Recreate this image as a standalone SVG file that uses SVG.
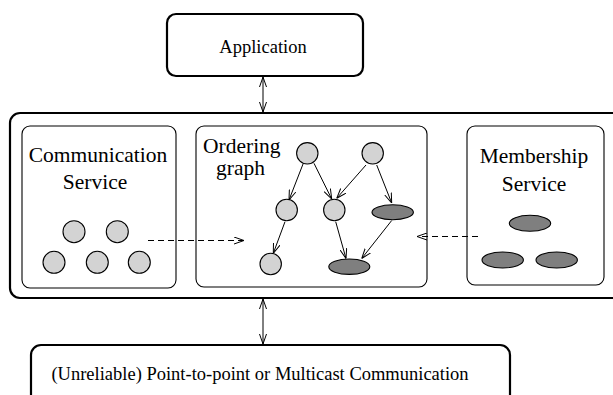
<svg xmlns="http://www.w3.org/2000/svg" width="613" height="395" viewBox="0 0 613 395">
<style>
.big{fill:#fff;stroke:#000;stroke-width:2.2}
.box{fill:#fff;stroke:#000;stroke-width:1.1}
.lt{fill:#d3d3d3;stroke:#000;stroke-width:1.1}
.dk{fill:#7f7f7f;stroke:#000;stroke-width:1.1}
.t{font-family:"Liberation Serif","Times New Roman",serif;fill:#000}
.e{stroke:#000;stroke-width:1;fill:none;marker-end:url(#ah)}
.d{stroke:#000;stroke-width:1;fill:none;stroke-dasharray:6,4;marker-end:url(#ah)}
.bi{stroke:#000;stroke-width:1;fill:none;marker-end:url(#ah);marker-start:url(#ahs)}
</style>
<defs>
<marker id="ah" viewBox="0 0 10 8" refX="10" refY="4" markerWidth="10" markerHeight="8" markerUnits="userSpaceOnUse" orient="auto">
<path d="M0,0.5 L10,4 L0,7.5" fill="none" stroke="#000" stroke-width="1"/>
</marker>
<marker id="ahs" viewBox="0 0 10 8" refX="0" refY="4" markerWidth="10" markerHeight="8" markerUnits="userSpaceOnUse" orient="auto">
<path d="M10,0.5 L0,4 L10,7.5" fill="none" stroke="#000" stroke-width="1"/>
</marker>
</defs>
<g id="application">
<rect class="big" x="167" y="14" width="196" height="62" rx="9"/>
<text class="t" x="263" y="53" font-size="18.5" text-anchor="middle">Application</text>
</g>
<g id="middleware">
<rect class="big" x="10" y="113" width="620" height="185" rx="10"/>
</g>
<g id="network">
<rect class="big" x="31" y="345" width="479" height="70" rx="10"/>
<text class="t" x="260" y="380" font-size="18.5" text-anchor="middle">(Unreliable) Point-to-point or Multicast Communication</text>
</g>
<g id="communication-service">
<rect class="box" x="22" y="126" width="154" height="162" rx="8"/>
<text class="t" x="98" y="162" font-size="21.5" text-anchor="middle">Communication</text>
<text class="t" x="95" y="189" font-size="21.5" text-anchor="middle">Service</text>
<circle class="lt" cx="74" cy="231.7" r="11"/>
<circle class="lt" cx="117.3" cy="231.7" r="11"/>
<circle class="lt" cx="54" cy="262.3" r="11"/>
<circle class="lt" cx="97.3" cy="262.3" r="11"/>
<circle class="lt" cx="139.3" cy="262.3" r="11"/>
</g>
<g id="ordering-graph">
<rect class="box" x="196" y="126" width="231" height="161" rx="8"/>
<text class="t" x="203" y="153" font-size="21.5">Ordering</text>
<text class="t" x="216" y="175" font-size="21.5">graph</text>
<circle class="lt" cx="307.3" cy="153.3" r="10.7"/>
<circle class="lt" cx="372.7" cy="153.3" r="10.7"/>
<circle class="lt" cx="286.7" cy="210" r="10.7"/>
<circle class="lt" cx="334.3" cy="210" r="10.7"/>
<ellipse class="dk" cx="392.7" cy="212.3" rx="20.7" ry="7.5"/>
<circle class="lt" cx="270.7" cy="264" r="10.7"/>
<ellipse class="dk" cx="349.3" cy="266.7" rx="20.5" ry="7.7"/>
</g>
<g id="membership-service">
<rect class="box" x="467" y="126" width="137" height="159" rx="8"/>
<text class="t" x="534" y="163" font-size="21.5" text-anchor="middle">Membership</text>
<text class="t" x="534" y="191" font-size="21.5" text-anchor="middle">Service</text>
<ellipse class="dk" cx="530" cy="223.3" rx="20.7" ry="8"/>
<ellipse class="dk" cx="502.7" cy="260" rx="20.7" ry="8"/>
<ellipse class="dk" cx="556.7" cy="260" rx="20.7" ry="8"/>
</g>
<g id="connectors">
<line class="bi" x1="263" y1="77" x2="263" y2="112"/>
<line class="bi" x1="263" y1="299" x2="263" y2="344"/>
<line class="e" x1="303.3" y1="163.3" x2="289" y2="200"/>
<line class="e" x1="314" y1="163.3" x2="331.7" y2="199"/>
<line class="e" x1="366" y1="165" x2="336.7" y2="198.3"/>
<line class="e" x1="376.7" y1="165" x2="391.7" y2="203"/>
<line class="e" x1="285" y1="221.7" x2="273.3" y2="253.3"/>
<line class="e" x1="335.7" y1="221.7" x2="346" y2="258.5"/>
<line class="e" x1="391.7" y1="220.5" x2="361.7" y2="258.5"/>
<line class="d" x1="148" y1="240.5" x2="244" y2="240.5"/>
<line class="d" x1="478" y1="236.5" x2="417" y2="236.5"/>
</g>
</svg>
